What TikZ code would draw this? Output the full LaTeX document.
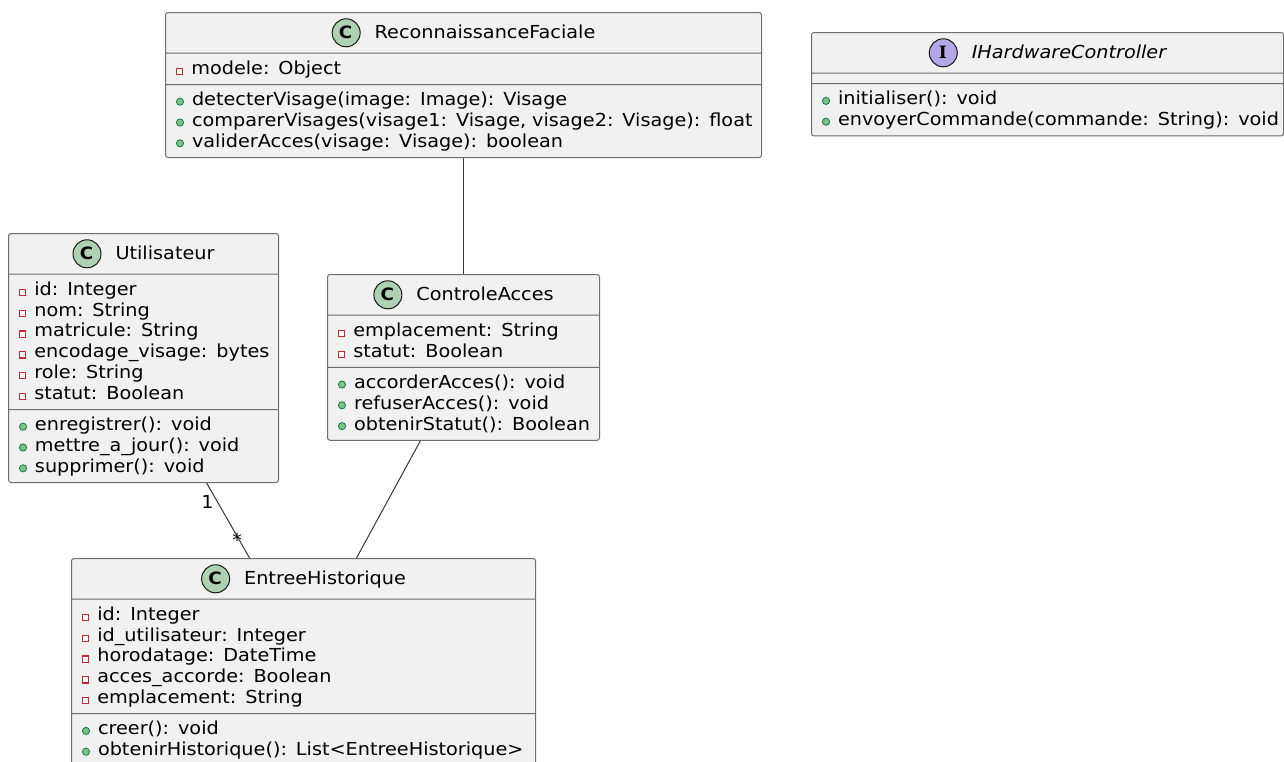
\documentclass[tikz,border=0pt]{standalone}
\usepackage{fontspec}
\setmainfont{DejaVu Sans}[FakeStretch=1.075]
\newfontfamily\iconfont{DejaVu Serif}
\usetikzlibrary{shapes.multipart,calc}

\definecolor{boxfill}{HTML}{F1F1F1}
\definecolor{boxline}{HTML}{6E6E6E}
\definecolor{linkline}{HTML}{383838}
\definecolor{iconline}{HTML}{181818}
\definecolor{classicon}{HTML}{ADD1B2}
\definecolor{ifaceicon}{HTML}{B4A7E5}
\definecolor{privred}{HTML}{C82930}
\definecolor{pubgreen}{HTML}{038048}
\definecolor{pubfill}{HTML}{84BE84}

\newcommand{\umlfont}{\fontsize{17.9}{20.8}\selectfont\lineskiplimit=-20pt}
\newcommand{\ls}{\rule[-5pt]{0pt}{20.8pt}}
\newcommand{\privm}[1]{\mbox{\ls\raisebox{0.2pt}{\color{privred}\setlength{\fboxrule}{1.1pt}\setlength{\fboxsep}{0pt}\fbox{\color{white}\rule{5.1pt}{5.1pt}}}\hspace{8pt}#1}}
\newcommand{\pubm}[1]{\mbox{\ls\tikz[x=1pt,y=1pt,baseline=0pt]\path[draw=pubgreen,fill=pubfill,line width=0.8pt] (3.9pt,3.9pt) circle[radius=3.6pt];\hspace{8pt}#1}}
\newcommand{\umltitle}[3]{\makebox[\hsize][c]{\rule[-9pt]{0pt}{30pt}\rlap{\tikz[x=1pt,y=1pt,baseline=-6pt]\path[draw=iconline,fill=#1,line width=1pt] (14pt,0pt) circle[radius=14pt];}\makebox[28pt][c]{\raisebox{0.5pt}{\fontsize{17}{17}\selectfont\bfseries #2}}\hspace{15pt}#3}}

\begin{document}
\begin{tikzpicture}[x=1pt, y=-1pt,
    uml/.style={
      rectangle split, rectangle split parts=3,
      draw=boxline, fill=boxfill, line width=1pt, rounded corners=2.5pt,
      anchor=north west, inner xsep=10.5pt, inner ysep=4.8pt,
      align=left, font=\umlfont, text=black, text width=#1
      },
    link/.style={draw=linkline, line width=1pt},
    mult/.style={font=\umlfont, text=black, inner sep=1pt}
  ]
  \useasboundingbox (0,0) rectangle (1284,761);
  \clip (0,0) rectangle (1284,761);

  \node[uml=575pt] (RF) at (165,12) {\umltitle{classicon}{C}{ReconnaissanceFaciale}
    \nodepart{two}\privm{modele: Object}
    \nodepart{three}\pubm{detecterVisage(image: Image): Visage}\\
    \pubm{comparerVisages(visage1: Visage, visage2: Visage): float}\\
    \pubm{validerAcces(visage: Visage): boolean}};

  \node[uml=451pt] (HW) at (811,32) {\umltitle{ifaceicon}{\iconfont I}{\itshape IHardwareController}
    \nodepart{two}
    \nodepart{three}\pubm{initialiser(): void}\\
    \pubm{envoyerCommande(commande: String): void}};

  \node[uml=249pt] (U) at (8,233) {\umltitle{classicon}{C}{Utilisateur}
    \nodepart{two}\privm{id: Integer}\\
    \privm{nom: String}\\
    \privm{matricule: String}\\
    \privm{encodage\_visage: bytes}\\
    \privm{role: String}\\
    \privm{statut: Boolean}
    \nodepart{three}\pubm{enregistrer(): void}\\
    \pubm{mettre\_a\_jour(): void}\\
    \pubm{supprimer(): void}};

  \node[uml=251pt] (CA) at (327,274) {\umltitle{classicon}{C}{ControleAcces}
    \nodepart{two}\privm{emplacement: String}\\
    \privm{statut: Boolean}
    \nodepart{three}\pubm{accorderAcces(): void}\\
    \pubm{refuserAcces(): void}\\
    \pubm{obtenirStatut(): Boolean}};

  \node[uml=443pt] (EH) at (71,558) {\umltitle{classicon}{C}{EntreeHistorique}
    \nodepart{two}\privm{id: Integer}\\
    \privm{id\_utilisateur: Integer}\\
    \privm{horodatage: DateTime}\\
    \privm{acces\_accorde: Boolean}\\
    \privm{emplacement: String}
    \nodepart{three}\pubm{creer(): void}\\
    \pubm{obtenirHistorique(): List\textless EntreeHistorique\textgreater}};

  \draw[link] (RF.south) -- (CA.north);
  \draw[link] ($(U.south west)!0.733!(U.south east)$) -- node[mult, pos=0.25, xshift=-10pt] {1} node[mult, pos=0.76, xshift=-2pt] {*} ($(EH.north west)!0.384!(EH.north east)$);
  \draw[link] ($(CA.south west)!0.342!(CA.south east)$) -- ($(EH.north west)!0.614!(EH.north east)$);
\end{tikzpicture}
\end{document}
